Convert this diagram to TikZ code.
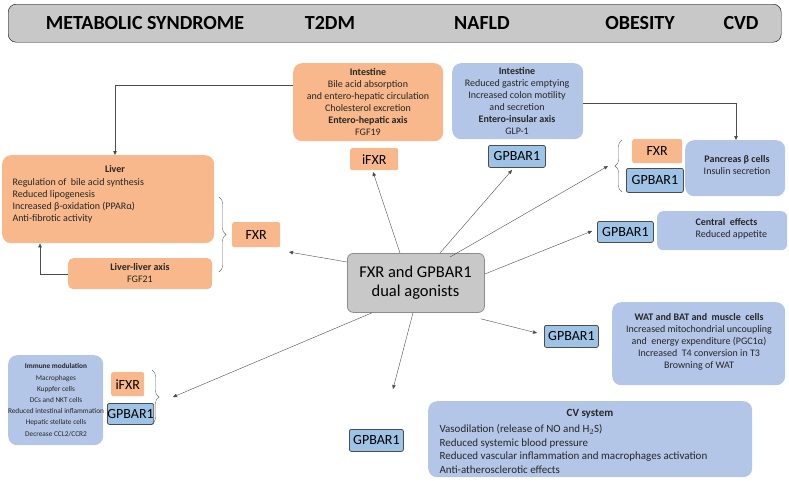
\documentclass[tikz,border=0pt]{standalone}
\usepackage{fontspec}
\setmainfont{Carlito}
\usetikzlibrary{arrows.meta,decorations.pathreplacing}
\definecolor{org}{HTML}{F8B88B}
\definecolor{lbl}{HTML}{B4C6E7}
\definecolor{dbl}{HTML}{9DC3E6}
\definecolor{gry}{HTML}{C8C8C8}
\begin{document}
\begin{tikzpicture}[x=1pt,y=-1pt,
  box/.style={rounded corners=9pt,inner sep=0pt,anchor=north west},
  obox/.style={box,fill=org},
  bbox/.style={box,fill=lbl},
  small/.style={font=\fontsize{10}{12}\selectfont,align=center,text=black!85},
  rec/.style={font=\fontsize{14}{15}\selectfont,inner sep=0pt,anchor=north west,rounded corners=2pt},
  orec/.style={rec,fill=org},
  brec/.style={rec,fill=dbl,draw=black!70,thick},
  arr/.style={-{Triangle[length=4pt,width=3.5pt]},black!70,thin},
  brace/.style={decorate,decoration={brace,amplitude=7pt},black!60}]
\useasboundingbox (0,0) rectangle (789,480);
% banner
\node[anchor=north west,draw=black,fill=gry,rounded corners=8pt,minimum width=773pt,minimum height=38pt,inner sep=0pt] (ban) at (8,4) {};
\begin{scope}[font=\fontsize{20}{21}\bfseries\selectfont]
\node (ms) at (145,23) {METABOLIC SYNDROME};
\node (t2) at (330,23) {T2DM};
\node (na) at (482,23) {NAFLD};
\node (ob) at (640,23) {OBESITY};
\node (cv) at (741,23) {CVD};
\end{scope}
% intestine orange
\node[obox,minimum width=150pt,minimum height=78pt] (io) at (293,63) {};
\node[small] (iot) at (368,102) {\textbf{Intestine}\\Bile acid absorption\\and entero-hepatic circulation\\Cholesterol excretion\\\textbf{Entero-hepatic axis}\\FGF19};
% intestine blue
\node[bbox,minimum width=131pt,minimum height=76pt] (ib) at (452,63) {};
\node[small] (ibt) at (517,101) {\textbf{Intestine}\\Reduced gastric emptying\\Increased colon motility\\and secretion\\\textbf{Entero-insular axis}\\GLP-1};
\node[orec,minimum width=48pt,minimum height=22pt] (ifx) at (350,148) {iFXR};
\node[brec,minimum width=57pt,minimum height=22pt] (g1) at (488,145) {GPBAR1};
% liver
\node[obox,minimum width=212pt,minimum height=88pt] (lv) at (2,155) {};
\node[small,font=\fontsize{10}{12}\bfseries\selectfont] (lvt) at (115,169) {Liver};
\node[small,align=left,anchor=north west] (lvl) at (9,175) {Regulation of\ \ bile acid synthesis\\Reduced lipogenesis\\Increased β-oxidation (PPARα)\\Anti-fibrotic activity};
\node[obox,rounded corners=5pt,minimum width=144pt,minimum height=31pt] (ll) at (68,258) {};
\node[small] (llt) at (140,273.5) {\textbf{Liver-liver axis}\\FGF21};
\draw[brace] (219,197) -- (219,272);
\node[orec,minimum width=48pt,minimum height=25pt] (fxl) at (232,222) {FXR};
% center
\node[anchor=north west,fill=gry,draw=black!45,thick,rounded corners=6pt,minimum width=137pt,minimum height=59pt,inner sep=0pt] (c) at (347,253) {};
\node[font=\fontsize{16.5}{19}\selectfont,align=center] (ct) at (415.5,282.5) {FXR and GPBAR1\\dual agonists};
% pancreas group
\draw[brace] (622,192) -- (622,140);
\node[orec,minimum width=50pt,minimum height=24pt] (fxr) at (632,139) {FXR};
\node[brec,minimum width=57pt,minimum height=24pt] (g2) at (626,168) {GPBAR1};
\node[bbox,minimum width=100pt,minimum height=56pt] (pa) at (685,140) {};
\node[small] (pat) at (737,165) {\textbf{Pancreas β cells}\\Insulin secretion};
% central effects
\node[brec,minimum width=56pt,minimum height=21pt] (g3) at (597,221) {GPBAR1};
\node[bbox,rounded corners=6pt,minimum width=130pt,minimum height=39pt] (ce) at (657,211) {};
\node[small,align=left,anchor=north west] (cet) at (692,215) {\textbf{Central\ \ effects}\\Reduced appetite};
% WAT
\node[brec,minimum width=54pt,minimum height=22pt] (g4) at (544,325) {GPBAR1};
\node[bbox,minimum width=173pt,minimum height=83pt] (wa) at (612,302) {};
\node[small] (wat) at (699,342) {\textbf{WAT and BAT and\ \ muscle\ \ cells}\\Increased mitochondrial uncoupling\\and\ \ energy expenditure (PGC1α)\\Increased\ \ T4 conversion in T3\\Browning of WAT};
% immune
\node[bbox,minimum width=95pt,minimum height=90pt] (im) at (8,355) {};
\node[small,font=\fontsize{7.3}{11.2}\selectfont] (imt) at (56,400) {\textbf{Immune modulation}\\Macrophages\\Kuppfer cells\\DCs and NKT cells\\Reduced intestinal inflammation\\Hepatic stellate cells\\Decrease CCL2/CCR2};
\node[orec,minimum width=33pt,minimum height=24pt] (ifx2) at (111,372) {iFXR};
\node[brec,minimum width=38pt,minimum height=21pt] (g5) at (107,403) {GPBAR1};
\draw[brace] (152,370) -- (152,424);
% CV
\node[brec,minimum width=54pt,minimum height=22pt] (g6) at (349,429) {GPBAR1};
\node[bbox,minimum width=324pt,minimum height=76pt] (cvb) at (428,401) {};
\node[small,font=\fontsize{11}{13.5}\selectfont] (cvt) at (590,414) {\textbf{CV system}};
\node[small,font=\fontsize{11}{13.5}\selectfont,align=left,anchor=north west] (cvl) at (436,421) {Vasodilation (release of NO and H$_2$S)\\Reduced systemic blood pressure\\Reduced vascular inflammation and macrophages activation\\Anti-atherosclerotic effects};
% connectors
\coordinate (a1) at (115,85); \coordinate (a2) at (40,274); \coordinate (a3) at (736,103);
\draw[arr] (io.west |- a1) -| (lv.north -| a1);
\draw[arr] (ll.west |- a2) -| (lv.south -| a2);
\draw[arr] (ib.east |- a3) -| (pa.north -| a3);
\coordinate (t1) at (373,172); \coordinate (t2) at (512,170); \coordinate (t3) at (608,166);
\coordinate (t4) at (592,231); \coordinate (t5) at (289,252); \coordinate (t6) at (537,333);
\coordinate (t7) at (173,397); \coordinate (t8) at (393,389);
\draw[arr] ([xshift=53pt]c.north west) -- (t1);
\draw[arr] ([xshift=93pt]c.north west) -- (t2);
\draw[arr] ([xshift=103pt,yshift=-4pt]c.north west) -- (t3);
\draw[arr] ([yshift=-21pt]c.north east) -- (t4);
\draw[arr] ([yshift=-9pt]c.north west) -- (t5);
\draw[arr] ([xshift=-4pt,yshift=-6pt]c.south east) -- (t6);
\draw[arr] ([xshift=25pt]c.south west) -- (t7);
\draw[arr] ([xshift=66pt]c.south west) -- (t8);
\end{tikzpicture}
\end{document}
